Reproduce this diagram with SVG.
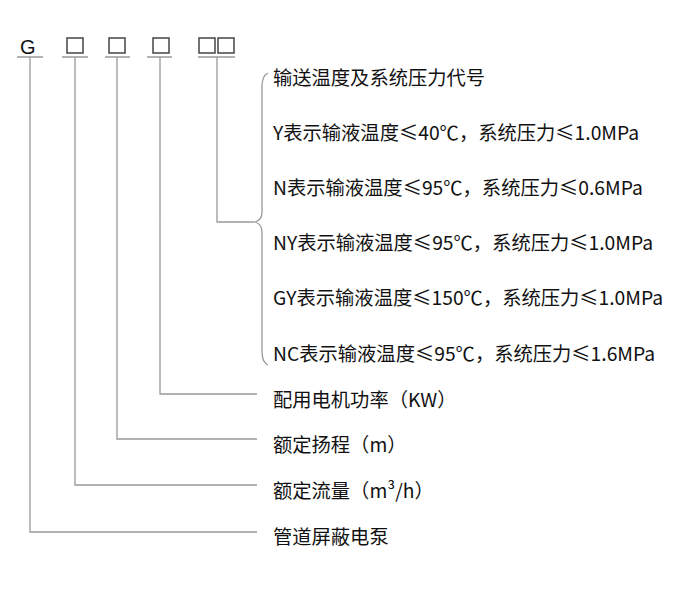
<svg xmlns="http://www.w3.org/2000/svg" width="700" height="608" viewBox="0 0 700 608">
<style>
.l{stroke:#999;stroke-width:1.3;fill:none}
.b{stroke:#444;stroke-width:1.5;fill:#fff}
text{font-family:"Noto Sans CJK SC","Liberation Sans",sans-serif;font-size:19.3px;fill:#111}
</style>
<rect width="700" height="608" fill="#fff"/>
<g id="header">
<text x="20" y="54" style="font-family:'Liberation Sans',sans-serif;font-size:20px">G</text>
<rect class="b" x="67" y="38" width="16" height="15"/>
<rect class="b" x="109" y="38" width="16" height="15"/>
<rect class="b" x="153" y="38" width="16" height="15"/>
<rect class="b" x="199" y="38" width="16" height="15"/>
<rect class="b" x="218" y="38" width="16" height="15"/>
</g>
<g id="connectors">
<path class="l" d="M17 57H43M62 57H88M105 57H130M147 57H172M198 57H235"/>
<path class="l" d="M30 57V532H257M75 57V485H257M117 57V439H257M160 57V394H257M217 57V222H254"/>
<path class="l" stroke="#333" d="M268 73Q262 76 262 86V212Q262 220 255 222Q262 224 262 232V352Q262 362 268 365"/>
</g>
<g id="labels">
<text x="273" y="85">输送温度及系统压力代号</text>
<text x="273" y="140">Y表示输液温度≤40℃，系统压力≤1.0MPa</text>
<text x="273" y="195">N表示输液温度≤95℃，系统压力≤0.6MPa</text>
<text x="273" y="250">NY表示输液温度≤95℃，系统压力≤1.0MPa</text>
<text x="273" y="305">GY表示输液温度≤150℃，系统压力≤1.0MPa</text>
<text x="273" y="361">NC表示输液温度≤95℃，系统压力≤1.6MPa</text>
<text x="273" y="407">配用电机功率（KW）</text>
<text x="273" y="452">额定扬程（m）</text>
<text x="273" y="498">额定流量（m³/h）</text>
<text x="273" y="544">管道屏蔽电泵</text>
</g>
</svg>
